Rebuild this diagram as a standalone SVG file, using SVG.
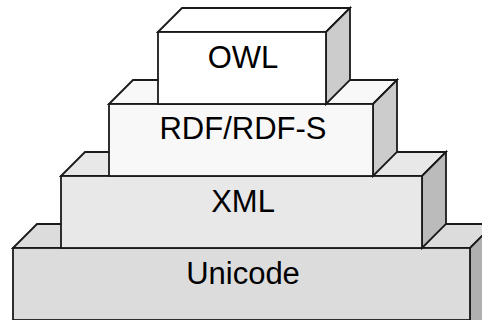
<svg xmlns="http://www.w3.org/2000/svg" width="482" height="320" viewBox="0 0 482 320">
<style>
.e{stroke:#1a1a1a;stroke-width:1.8;stroke-linejoin:miter}
.t{font-family:"Liberation Sans",Arial,sans-serif;font-size:31px;fill:#000;text-anchor:middle}
</style>
<rect width="482" height="320" fill="#fff"/>
<g id="unicode">
<polygon class="e" points="13,248 37,224 494,224 470,248" fill="#dcdcdc"/>
<polygon class="e" points="470,248 494,224 494,344 470,344" fill="#b0b0b0"/>
<rect class="e" x="13" y="248" width="457" height="72" fill="#dcdcdc"/>
<text class="t" x="243" y="284">Unicode</text>
</g>
<g id="xml">
<polygon class="e" points="61,176 85,152 446,152 422,176" fill="#e8e8e8"/>
<polygon class="e" points="422,176 446,152 446,224 422,248" fill="#bbbbbb"/>
<rect class="e" x="61" y="176" width="361" height="72" fill="#e8e8e8"/>
<text class="t" x="243" y="212">XML</text>
</g>
<g id="rdf">
<polygon class="e" points="109,104 133,80 397,80 373,104" fill="#f8f8f8"/>
<polygon class="e" points="373,104 397,80 397,152 373,176" fill="#cccccc"/>
<rect class="e" x="109" y="104" width="264" height="72" fill="#f8f8f8"/>
<text class="t" x="243" y="139">RDF/RDF-S</text>
</g>
<g id="owl">
<polygon class="e" points="158,32 182,8 350,8 326,32" fill="#ffffff"/>
<polygon class="e" points="326,32 350,8 350,80 326,104" fill="#cccccc"/>
<rect class="e" x="158" y="32" width="168" height="72" fill="#ffffff"/>
<text class="t" x="243" y="68">OWL</text>
</g>
<g id="connectors"/>
</svg>
